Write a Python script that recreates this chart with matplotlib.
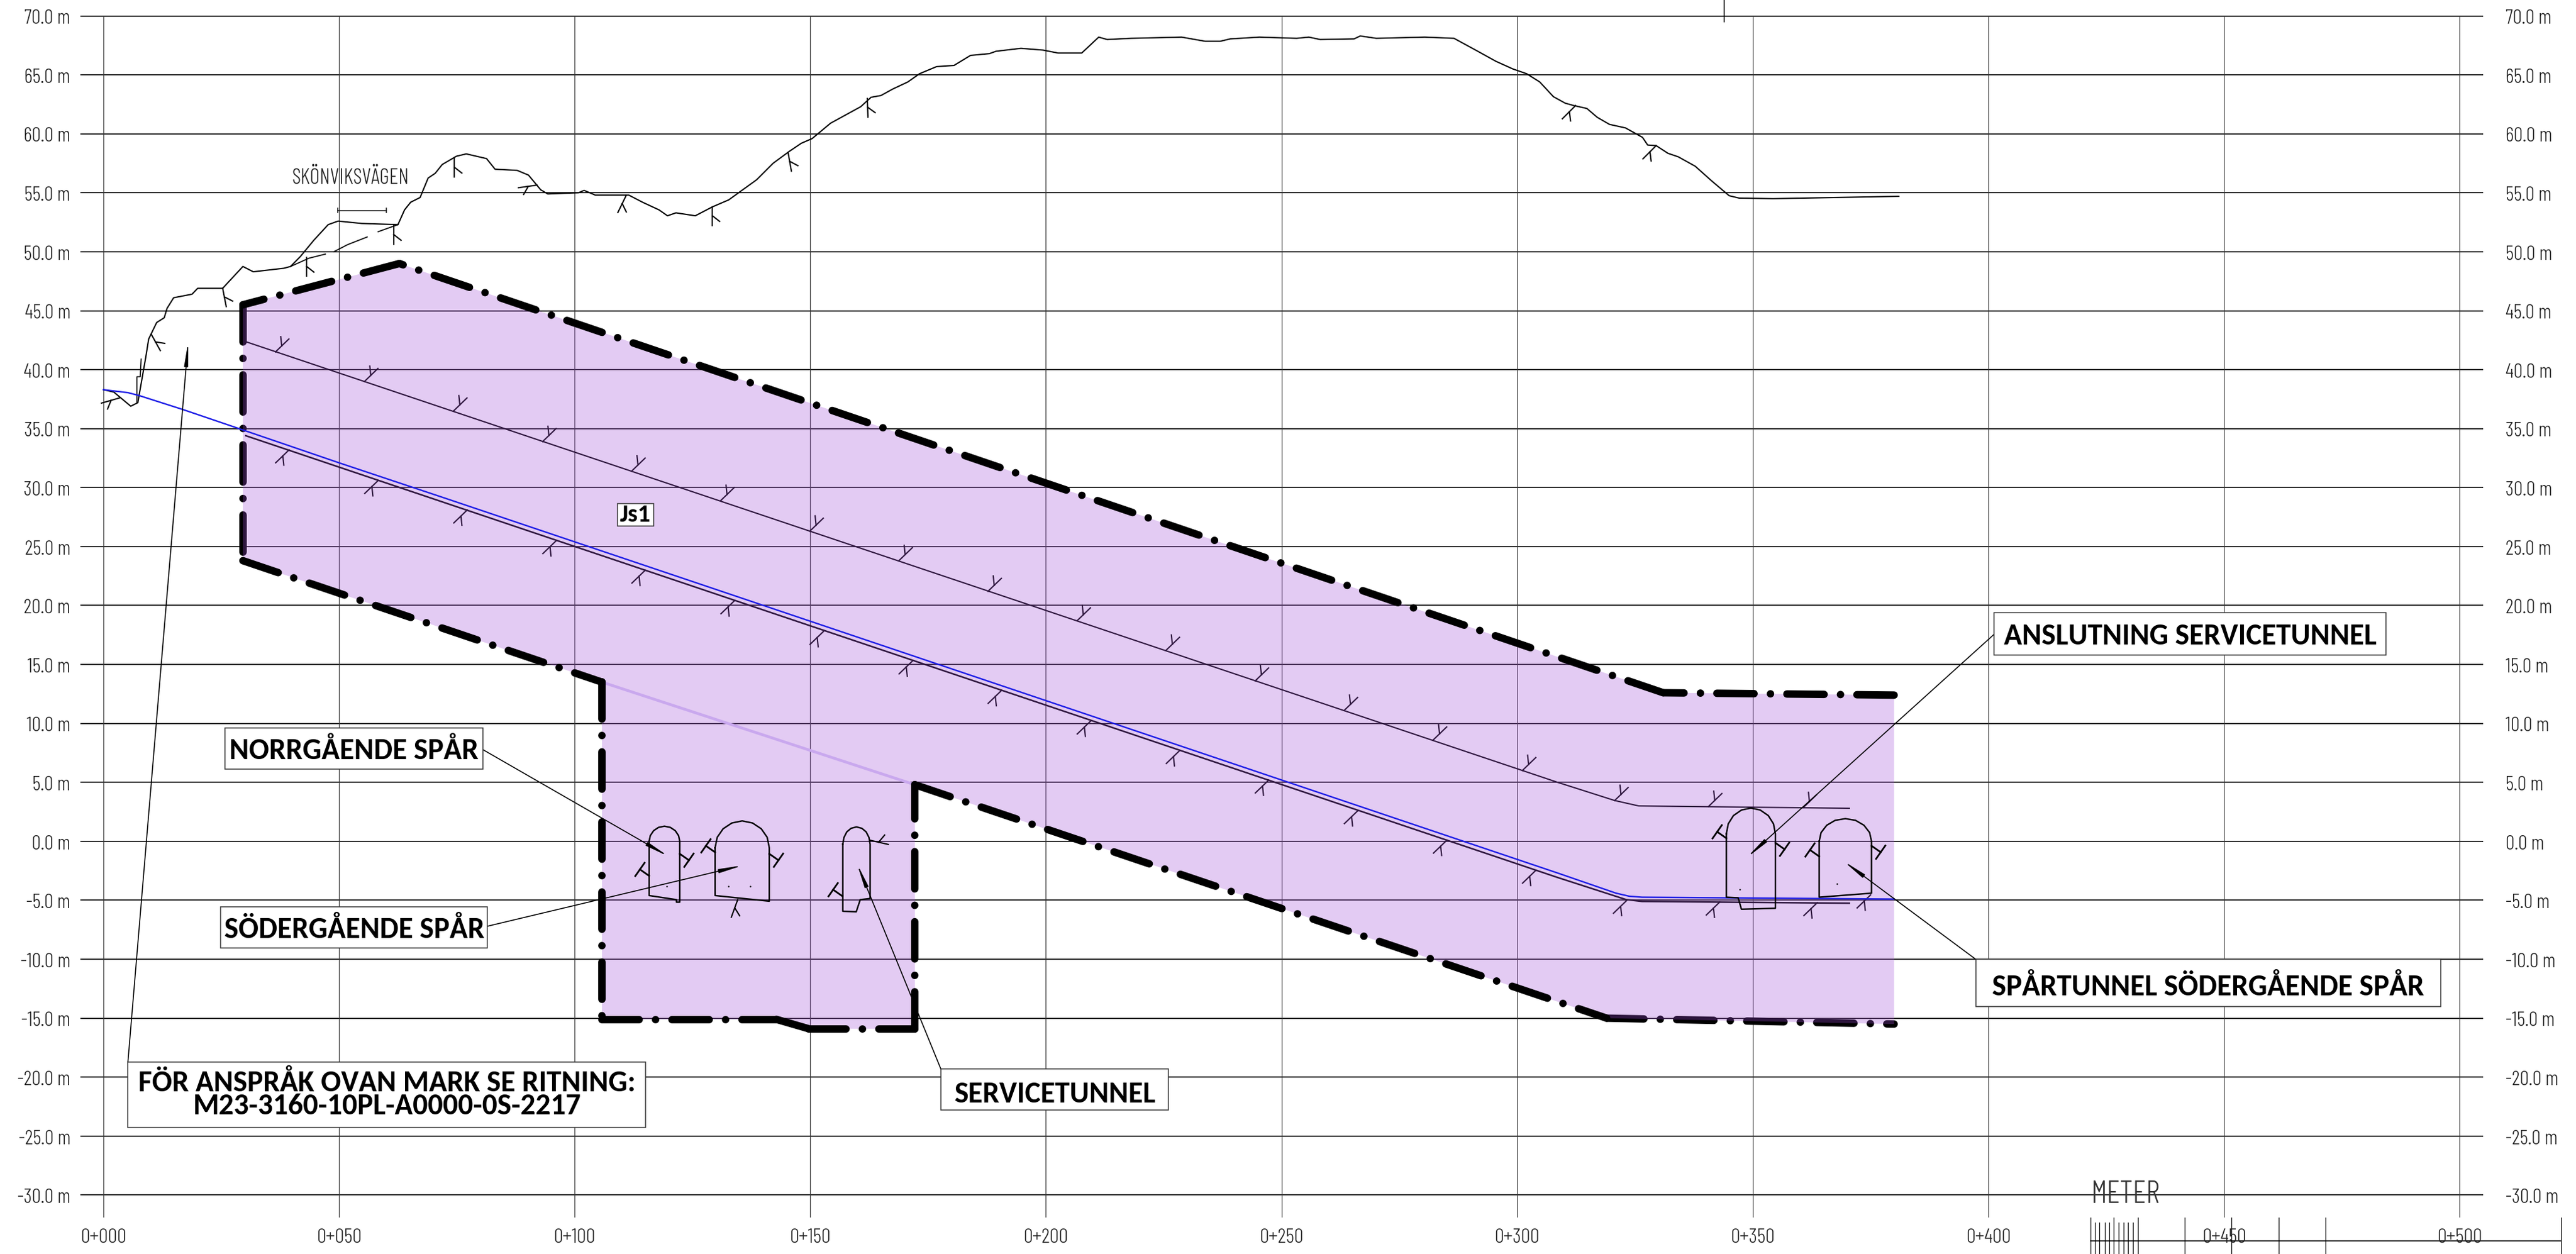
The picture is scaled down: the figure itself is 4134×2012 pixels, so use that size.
import math
import matplotlib
matplotlib.use('Agg')
import matplotlib.pyplot as plt
from matplotlib.patches import Rectangle

# elevation / chainage grid
elev_ticks = [70, 65, 60, 55, 50, 45, 40, 35, 30, 25, 20, 15, 10, 5, 0, -5, -10, -15, -20, -25, -30]
chain_ticks = [0, 50, 100, 150, 200, 250, 300, 350, 400, 450, 500]

# ground surface
ground_chain = [0, 2.2, 5.8, 7.3, 7.6, 9.0, 9.6, 11.3, 12.9, 13.5, 14.9, 18.8, 20.0, 25.3, 29.6, 31.8, 38.3, 39.7,
                41.8, 44.7, 47.7, 49.8, 54.8, 62.5, 63.9, 65.2, 67.2, 68.9, 70.4, 71.9, 74.9, 77.0, 81.3, 83.1,
                87.8, 90.2, 92.8, 94.3, 100.8, 102.0, 104.4, 111.5, 114.4, 117.9, 119.7, 121.5, 125.6, 129.2,
                132.7, 138.6, 142.1, 145.5, 148.1, 150.4, 154.3, 160.7, 162.9, 165.0, 167.5, 170.7, 173.2, 176.8,
                180.5, 184.0, 188.0, 189.4, 194.7, 199.4, 202.6, 207.6, 211.2, 213.0, 218.1, 228.8, 233.8, 237.0,
                239.1, 245.3, 253.2, 255.8, 258.2, 265.4, 266.7, 270.1, 280.4, 286.6, 291.2, 295.5, 299.1, 302.0,
                304.8, 307.7, 310.2, 312.0, 314.8, 317.0, 319.6, 323.0, 326.6, 327.7, 329.5, 332.0, 334.2, 337.8,
                341.3, 345.0, 347.1, 354.3, 381.0]
ground_elev = [38.3, 38.1, 36.9, 37.2, 37.9, 41.1, 42.6, 44.0, 44.4, 45.2, 46.1, 46.4, 46.9, 46.9, 48.75, 48.3, 48.6, 48.75,
               49.6, 51.0, 52.3, 52.6, 52.4, 52.3, 53.55, 54.2, 54.6, 56.25, 56.65, 57.4, 58.1, 58.3, 57.9, 57.0,
               56.9, 56.5, 55.25, 54.9, 55.0, 55.2, 54.8, 54.8, 54.2, 53.55, 53.05, 53.3, 53.05, 53.8,
               54.4, 56.1, 57.5, 58.5, 59.2, 59.6, 60.9, 62.3, 63.1, 63.25, 63.8, 64.4, 65.1, 65.7,
               65.8, 66.65, 66.8, 67.0, 67.25, 67.1, 66.85, 66.85, 68.2, 68.0, 68.1, 68.2, 67.85, 67.85,
               68.05, 68.2, 68.1, 68.2, 68.0, 68.05, 68.3, 68.1, 68.2, 68.1, 67.1, 66.15, 65.5, 65.1,
               64.4, 63.15, 62.6, 62.4, 62.15, 61.4, 60.8, 60.5, 59.7, 59.05, 59.0, 58.35, 58.05, 57.25,
               56.0, 54.75, 54.55, 54.5, 54.7]

# road strand under Skönviksvägen, broken in three
road_parts_chain = [[39.7, 43.6, 47.1], [48.9, 51.8, 55.96], [58.3, 62.5]]
road_parts_elev = [[48.75, 49.45, 49.8], [50.0, 50.6, 51.25], [51.7, 52.3]]
wall_chain = [7.1, 7.1, 7.8, 8.0]
wall_elev = [37.2, 39.4, 39.4, 40.9]

# rock surfaces and track line
upper_chain = [30.0, 308.6, 320.7, 325.8, 370.5]
upper_elev = [42.4, 5.0, 3.46, 3.0, 2.8]
lower_chain = [30.2, 308.6, 323.1, 326.5, 370.5]
lower_elev = [34.4, -3.07, -4.94, -5.1, -5.25]
blue_chain = [0, 5.2, 7.6, 17.0, 29.5, 50.0, 72.5, 308.6, 321.0, 323.8, 326.5, 380.0]
blue_elev = [38.3, 38.05, 37.8, 36.6, 34.9, 32.1, 29.1, -2.69, -4.4, -4.66, -4.74, -4.9]

# claim area
area_chain = [29.6, 62.8, 331.0, 380.0, 380.0, 319.0, 172.2, 172.2, 149.7, 142.8, 105.8, 105.8, 29.6]
area_elev = [45.5, 49.0, 12.6, 12.4, -15.5, -15.0, 4.8, -15.9, -15.9, -15.1, -15.1, 13.5, 23.8]
top_path = [(380.0, 12.4), (331.0, 12.6), (62.8, 49.0), (29.6, 45.5)]
left_path = [(29.6, 45.5), (29.6, 23.8)]
inner_path = [(29.6, 23.8), (105.8, 13.5), (105.8, -15.1), (142.8, -15.1), (149.7, -15.9), (172.2, -15.9),
              (172.2, 4.8), (319.0, -15.0)]
right_path = [(319.0, -15.0), (380.0, -15.5)]

# tunnel sections
tunnels = [
    ([115.8, 116.05, 116.75, 117.8, 119.05, 120.3, 121.35, 122.05, 122.3, 122.3, 121.6, 121.6, 115.8, 115.8],
     [0.0, 0.48, 0.9, 1.18, 1.28, 1.18, 0.9, 0.48, 0.0, -5.16, -5.16, -4.95, -4.6, 0.0]),
    ([129.8, 130.25, 131.5, 133.35, 135.55, 137.75, 139.6, 140.85, 141.3, 141.3, 129.8, 129.8],
     [-0.55, 0.34, 1.06, 1.55, 1.73, 1.55, 1.06, 0.34, -0.55, -5.08, -4.6, -0.55]),
    ([156.9, 157.15, 157.75, 158.65, 159.8, 160.95, 161.85, 162.45, 162.7, 162.7, 160.6, 159.75, 156.9, 156.9],
     [-0.24, 0.33, 0.8, 1.1, 1.22, 1.1, 0.8, 0.33, -0.24, -4.85, -4.95, -5.98, -5.93, -0.24]),
    ([344.4, 344.8, 345.9, 347.6, 349.6, 351.6, 353.3, 354.4, 354.8, 354.8, 347.6, 346.9, 344.4, 344.4],
     [0.64, 1.48, 2.18, 2.65, 2.82, 2.65, 2.18, 1.48, 0.64, -5.68, -5.76, -4.79, -4.74, 0.64]),
    ([364.1, 364.5, 365.7, 367.5, 369.65, 371.8, 373.6, 374.8, 375.2, 375.2, 364.1, 364.1],
     [0.0, 0.74, 1.36, 1.78, 1.92, 1.78, 1.36, 0.74, 0.0, -4.4, -4.74, 0.0]),
]
tunnel_dot_chain = [119.5, 132.6, 137.3, 347.2, 367.9]
tunnel_dot_elev = [-3.83, -3.83, -3.83, -4.1, -3.6]

# dip marks on the rock surfaces
upper_mark_chain = [36.5, 55.4, 74.3, 93.2, 112.1, 131.0, 149.9, 168.8, 187.7, 206.6, 225.5, 244.4, 263.3, 282.2, 301.1,
                    320.7, 340.6, 360.7]
upper_mark_elev = [41.5, 39.0, 36.5, 33.9, 31.4, 28.9, 26.3, 23.8, 21.2, 18.7, 16.2, 13.6, 11.1, 8.6, 6.0, 3.46, 2.95, 2.85]
lower_mark_chain = [39.4, 58.3, 77.2, 96.1, 115.0, 133.9, 152.8, 171.7, 190.6, 209.5, 228.4, 247.3, 266.2, 285.1, 304.0,
                    323.3, 343.0, 363.7, 375.0]
lower_mark_elev = [33.2, 30.6, 28.1, 25.5, 23.0, 20.4, 17.8, 15.3, 12.8, 10.2, 7.7, 5.2, 2.6, 0.1, -2.45, -5.0, -5.15, -5.2, -4.55]
ground_mark_chain = [3.4, 10.15, 25.3, 43.1, 61.6, 74.5, 92.0, 110.9, 129.2, 145.3, 162.1, 312.4, 329.5]
ground_mark_elev = [37.6, 43.0, 46.9, 49.5, 52.2, 57.9, 55.65, 54.75, 53.8, 58.4, 63.0, 62.4, 59.0]
ground_mark_angle = [196, 299, 281, 270, 270, 270, 188, 244, 270, 280, 272, 225, 225]

# dip marks at the tunnel walls
wall_mark_chain = [115.8, 122.3, 129.8, 141.3, 156.8, 344.4, 354.8, 364.1, 375.2]
wall_mark_elev = [-2.93, -1.06, -0.93, -1.06, -4.65, 0.26, -0.13, -1.28, -0.38]
wall_mark_angle = [145, 325, 145, 325, 145, 145, 325, 145, 325]

# scale bar at the bottom
scale_major = [421.7, 426.6, 431.7, 441.6, 451.6, 461.6, 471.6, 521.5]
scale_minor = [422.6, 423.6, 424.7, 425.6, 427.7, 428.7, 429.6, 430.7]

PX_X = 7.562
PX_Y = 18.92
THIN = ['Barlow Condensed', 'Liberation Sans', 'DejaVu Sans']
BOLD = ['Carlito', 'Lato', 'DejaVu Sans']

fig = plt.figure(figsize=(41.34, 20.12), dpi=100)
ax = fig.add_axes([0, 0, 1, 1])
ax.set_xlim(-21.95, 524.7)
ax.set_ylim(-35.0, 71.35)
ax.axis('off')


def dip_mark(c, e, angle, z, delta=52, color='black', lw=1.5):
    t = math.radians(angle)
    b = math.radians(angle + delta)
    ax.plot([c, c + 30 * math.cos(t) / PX_X], [e, e + 30 * math.sin(t) / PX_Y], color=color, lw=lw, zorder=z)
    fx = c + 14 * math.cos(t) / PX_X
    fy = e + 14 * math.sin(t) / PX_Y
    ax.plot([fx, fx + 15 * math.cos(b) / PX_X], [fy, fy + 15 * math.sin(b) / PX_Y], color=color, lw=lw, zorder=z)


def wall_mark(c, e, angle, z):
    t = math.radians(angle)
    ex = c + 18 * math.cos(t) / PX_X
    ey = e + 18 * math.sin(t) / PX_Y
    p = t + math.pi / 2
    ax.plot([c, ex], [e, ey], color='black', lw=2, zorder=z)
    ax.plot([ex - 13 * math.cos(p) / PX_X, ex + 13 * math.cos(p) / PX_X],
            [ey - 13 * math.sin(p) / PX_Y, ey + 13 * math.sin(p) / PX_Y], color='black', lw=2, zorder=z)


def boundary(path, z):
    for (x0, y0), (x1, y1) in zip(path[:-1], path[1:]):
        ax.plot([x0, x1], [y0, y1], color='black', lw=8.6, zorder=z,
                linestyle=(0, (5, 2.2, 0.01, 2.2)), dash_capstyle='round')


def callout(x0, x1, y0, y1, label, size=34.4, dy=-0.2):
    ax.add_patch(Rectangle((x0, y0), x1 - x0, y1 - y0, facecolor='white', edgecolor='#333333', lw=1.1, zorder=9))
    ax.text((x0 + x1) / 2, (y0 + y1) / 2 + dy, label, ha='center', va='center', family=BOLD, weight='bold',
            fontsize=size, linespacing=0.87, color='black', zorder=10)


def leader(x0, y0, x1, y1):
    ax.annotate('', xy=(x1, y1), xytext=(x0, y0), zorder=8,
                arrowprops=dict(arrowstyle='-|>,head_length=2.2,head_width=0.18', lw=1.2, color='black',
                                shrinkA=0, shrinkB=0, mutation_scale=10))


# grid
ax.hlines(elev_ticks, -4.9, 505, color='#151515', lw=1.3, zorder=1)
ax.vlines(chain_ticks, -31.9, 70, color='#333333', lw=0.9, zorder=1)
for v in elev_ticks:
    ax.text(-7.0, v - 0.25, f'{v:.1f} m', ha='right', va='center', family=THIN, weight=300, fontsize=23.5, color='#222222')
    ax.text(509.8, v - 0.25, f'{v:.1f} m', ha='left', va='center', family=THIN, weight=300, fontsize=23.5, color='#222222')
for c in chain_ticks:
    ax.text(c, -33.65, f'0+{c:03d}', ha='center', va='center', family=THIN, weight=300, fontsize=24, color='#222222', zorder=3)

# ground
ax.plot(ground_chain, ground_elev, color='black', lw=1.5, zorder=3)
for cs, es in zip(road_parts_chain, road_parts_elev):
    ax.plot(cs, es, color='black', lw=1.3, zorder=3)
ax.plot(wall_chain, wall_elev, color='black', lw=1.2, zorder=3)
for c, e, a in zip(ground_mark_chain, ground_mark_elev, ground_mark_angle):
    dip_mark(c, e, a, 3)
ax.plot([49.7, 60.1], [53.5, 53.5], color='#222222', lw=1.2, zorder=3)
ax.plot([49.7, 49.7], [53.3, 53.7], color='#222222', lw=1.2, zorder=3)
ax.plot([60.1, 60.1], [53.3, 53.7], color='#222222', lw=1.2, zorder=3)
ax.text(52.4, 56.25, 'SKÖNVIKSVÄGEN', ha='center', va='center', family=THIN, weight=300, fontsize=24.8, color='#222222', zorder=3)
ax.plot([343.9, 343.9], [69.5, 71.35], color='black', lw=1.1, zorder=3)

# rock surfaces go under the fill
ax.plot(upper_chain, upper_elev, color='black', lw=1.5, zorder=3)
ax.plot(lower_chain, lower_elev, color='black', lw=1.8, zorder=3)
for c, e in zip(upper_mark_chain, upper_mark_elev):
    dip_mark(c, e, 44, 3)
for c, e in zip(lower_mark_chain, lower_mark_elev):
    dip_mark(c, e, 224, 3)
boundary(left_path, 3)
boundary(right_path, 3)

ax.fill(area_chain, area_elev, color='#9f4cd6', alpha=0.29, lw=0, zorder=4)
ax.plot([105.8, 172.2], [13.5, 4.8], color='#c9a8ee', lw=3.2, zorder=5)

boundary(top_path, 6)
boundary(inner_path, 6)
ax.plot(blue_chain, blue_elev, color='#1c1ce6', lw=1.7, zorder=6)

# tunnels
for cs, es in tunnels:
    ax.plot(cs, es, color='black', lw=1.7, zorder=7)
ax.scatter(tunnel_dot_chain, tunnel_dot_elev, s=3, color='black', lw=0, zorder=7)
for c, e, a in zip(wall_mark_chain, wall_mark_elev, wall_mark_angle):
    wall_mark(c, e, a, 7)
dip_mark(134.6, -4.95, 250, 7)
dip_mark(162.7, 0.09, 347, 7, delta=63)

# callouts
callout(25.75, 80.5, 6.14, 9.62, 'NORRGÅENDE SPÅR')
callout(24.9, 81.5, -9.05, -5.57, 'SÖDERGÅENDE SPÅR')
callout(5.2, 115.1, -24.27, -18.74, 'FÖR ANSPRÅK OVAN MARK SE RITNING:\nM23-3160-10PL-A0000-0S-2217', dy=0)
callout(177.7, 226.0, -22.8, -19.3, 'SERVICETUNNEL', dy=-0.4)
callout(401.2, 484.4, 15.81, 19.4, 'ANSLUTNING SERVICETUNNEL')
callout(397.3, 496.0, -14.0, -10.0, 'SPÅRTUNNEL SÖDERGÅENDE SPÅR', dy=-0.4)
callout(109.1, 116.7, 26.74, 28.64, 'Js1', size=29, dy=0)
leader(80.5, 7.78, 120.0, -1.3)
leader(81.5, -7.2, 135.8, -2.03)
leader(177.7, -19.3, 159.9, -1.88)
leader(401.2, 17.55, 348.7, -1.4)
leader(397.3, -10.0, 369.2, -1.66)
leader(5.2, -18.7, 18.0, 42.4)

# scale bar
ax.text(429.0, -30.0, 'METER', ha='center', va='center', family=THIN, weight=300, fontsize=36, color='#333333', zorder=2)
ax.plot([421.7, 521.5], [-33.9, -33.9], color='black', lw=1.2, zorder=2)
ax.vlines(scale_major, -35, -31.9, color='black', lw=0.9, zorder=2)
ax.vlines(scale_minor, -35, -32.3, color='black', lw=0.9, zorder=2)

fig.savefig('out.png', dpi=100)
